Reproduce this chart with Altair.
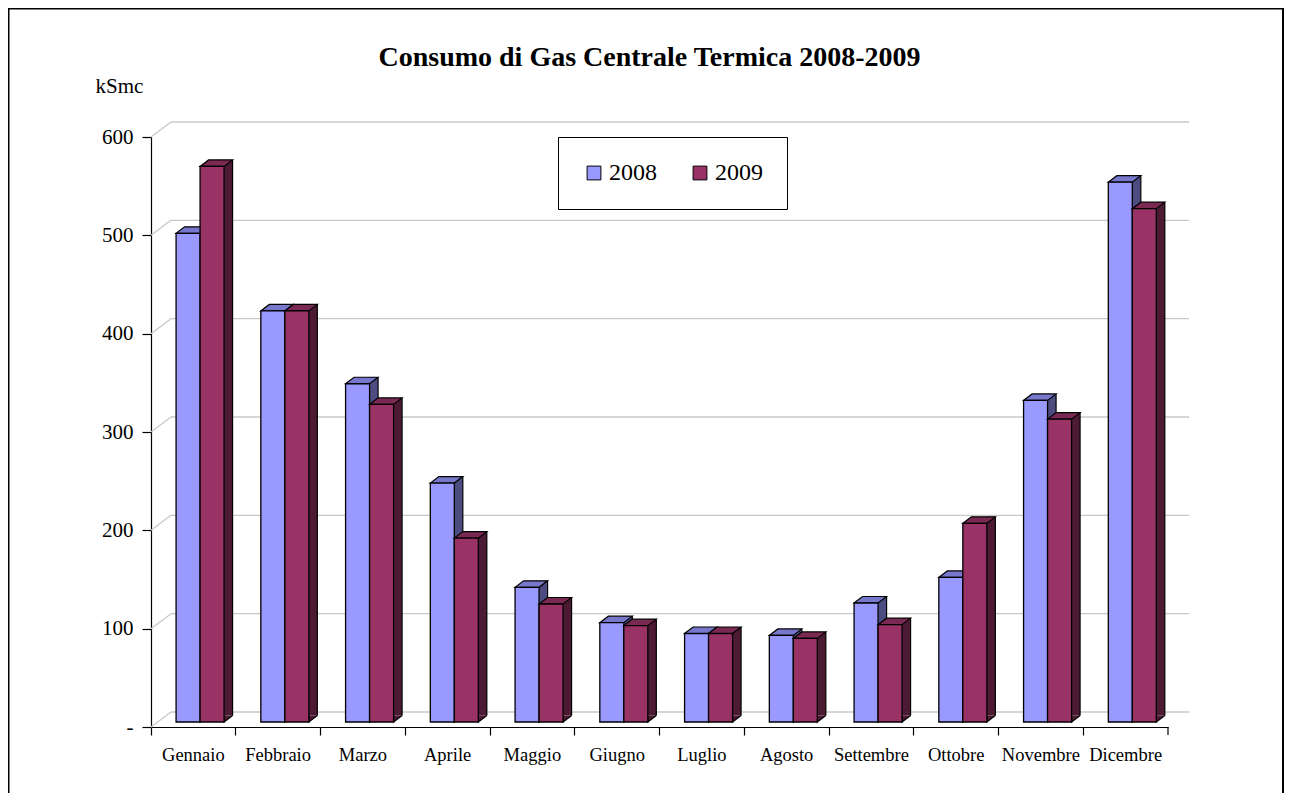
import altair as alt
import pandas as pd

months = ["Gennaio", "Febbraio", "Marzo", "Aprile", "Maggio", "Giugno",
          "Luglio", "Agosto", "Settembre", "Ottobre", "Novembre", "Dicembre"]
v2008 = [497, 418, 344, 243, 137, 101, 90, 88, 121, 147, 327, 549]
v2009 = [565, 418, 323, 187, 120, 98, 90, 85, 99, 202, 308, 522]
years = ["2008", "2009"]
grid_values = [0, 100, 200, 300, 400, 500, 600]

front_colors = ["#9999FF", "#993366"]
top_colors = ["#7777CC", "#7A2952"]
side_colors = ["#4C4C80", "#4D1A33"]

rows = []
for m, a, b in zip(months, v2008, v2009):
    rows.append({"month": m, "year": "2008", "value": a})
    rows.append({"month": m, "year": "2009", "value": b})
df = pd.DataFrame(rows)
grid_df = pd.DataFrame({"v": grid_values})

FONT = "Liberation Serif"
W, H = 1017, 590
DX, DY = 20, -15          # wall depth
FX, FY = 6.7, -5          # bar front face depth
BW, BDX, BDY = 24, 8.5, -6.5

xscale = alt.Scale(domain=months, paddingInner=0, paddingOuter=0)
xaxis = alt.Axis(title=None, labelAngle=0, labelFont=FONT, labelFontSize=18.5,
                 labelColor="black", domainColor="black", domainWidth=1.2,
                 tickColor="black", tickSize=8, tickWidth=1.2, bandPosition=0,
                 labelPadding=10, grid=False, labelOverlap=False)
yscale = alt.Scale(domain=[0, 600], nice=False, zero=True)
yaxis = alt.Axis(title="kSmc", values=grid_values, labelFont=FONT, labelFontSize=21,
                 labelColor="black", domainColor="black", domainWidth=1.2,
                 tickColor="black", tickSize=9, tickWidth=1.2, labelPadding=9,
                 labelExpr="datum.value == 0 ? '-' : datum.label", grid=False,
                 titleAngle=0, titleFont=FONT, titleFontSize=21, titleFontWeight="normal",
                 titleColor="black", titleAlign="left", titleBaseline="alphabetic",
                 titleX=-56, titleY=-45)

X = alt.X("month:N", scale=xscale, axis=xaxis, sort=months)
Y = alt.Y("value:Q", scale=yscale, axis=yaxis, stack=None)
Y0 = alt.Y2(datum=0)

one = pd.DataFrame({"a": [1]})
border = alt.Chart(one).mark_rect(
    fill="transparent", stroke="black", strokeWidth=2
).encode(x=alt.value(-142.5), x2=alt.value(1132), y=alt.value(-128.5), y2=alt.value(720))
end_tick = alt.Chart(one).mark_rule(color="black", strokeWidth=1.2).encode(
    x=alt.value(W), y=alt.value(H), y2=alt.value(H + 8))

gv = alt.Y("v:Q", scale=yscale, axis=yaxis)
back_grid = alt.Chart(grid_df).mark_rule(color="#C8C8C8", strokeWidth=1.3, yOffset=DY).encode(
    x=alt.value(DX), x2=alt.value(1038), y=gv)
diag_grid = alt.Chart(grid_df).mark_rule(color="#C8C8C8", strokeWidth=1.3, y2Offset=DY).encode(
    x=alt.value(0), x2=alt.value(DX), y=gv, y2="v:Q")

layers = [border, end_tick, back_grid, diag_grid]
for j, yr in enumerate(years):
    base = alt.Chart(df).transform_filter(alt.datum.year == yr)
    xo = FX - BW / 2 + BW * j       # front face centre offset
    right = xo + BW / 2
    side = base.mark_bar(width=BDX, xOffset=right + BDX / 2, yOffset=FY + BDY,
                         y2Offset=FY + BDY, color=side_colors[j], strokeWidth=0).encode(
        x=X, y=Y, y2=Y0)
    side_edge = base.mark_rule(xOffset=right + BDX, yOffset=FY + BDY, y2Offset=FY + BDY,
                               color="black", strokeWidth=1.2).encode(x=X, y=Y, y2=Y0)
    tri = base.mark_point(shape="M 0 -0.65 L 0 0 L 0.85 -0.65", size=400, filled=True,
                          fill=side_colors[j], stroke="black", strokeWidth=1.2, opacity=1,
                          xOffset=right, yOffset=FY).encode(
        x=X, y=alt.Y("zero:Q", scale=yscale, axis=yaxis)).transform_calculate(zero="0")
    top = base.mark_point(shape="M -0.6 0 L 0.6 0 L 1.025 -0.325 L -0.175 -0.325 Z",
                          size=1600, filled=True, fill=top_colors[j], stroke="black",
                          strokeWidth=1.2, opacity=1, xOffset=xo, yOffset=FY).encode(x=X, y=Y)
    front = base.mark_bar(width=BW, xOffset=xo, yOffset=FY, y2Offset=FY, stroke="black",
                          strokeWidth=1.3, opacity=1).encode(
        x=X, y=Y, y2=Y0,
        color=alt.Color("year:N", scale=alt.Scale(domain=years, range=front_colors),
                        legend=alt.Legend(title=None, orient="none", legendX=407, legendY=0,
                                          direction="horizontal", padding=24,
                                          strokeColor="black", fillColor="white",
                                          symbolType="square", symbolSize=190,
                                          symbolStrokeColor="black", symbolStrokeWidth=1,
                                          labelFont=FONT, labelFontSize=24, labelColor="black",
                                          columnPadding=31, labelOffset=3)))
    layers += [side, side_edge, tri, top, front]

chart = alt.layer(*layers).properties(
    width=W, height=H,
    autosize=alt.AutoSizeParams(type="none"),
    padding={"left": 143, "top": 129, "right": 116, "bottom": 66},
    title=alt.Title("Consumo di Gas Centrale Termica 2008-2009", font=FONT, fontSize=28,
                    fontWeight="bold", color="black", anchor="middle", baseline="alphabetic",
                    offset=14, dx=-10, dy=100),
).configure(background="white").configure_view(stroke=None, strokeWidth=0)

chart.save("out.html", embed_options={"renderer": "svg", "actions": False})
